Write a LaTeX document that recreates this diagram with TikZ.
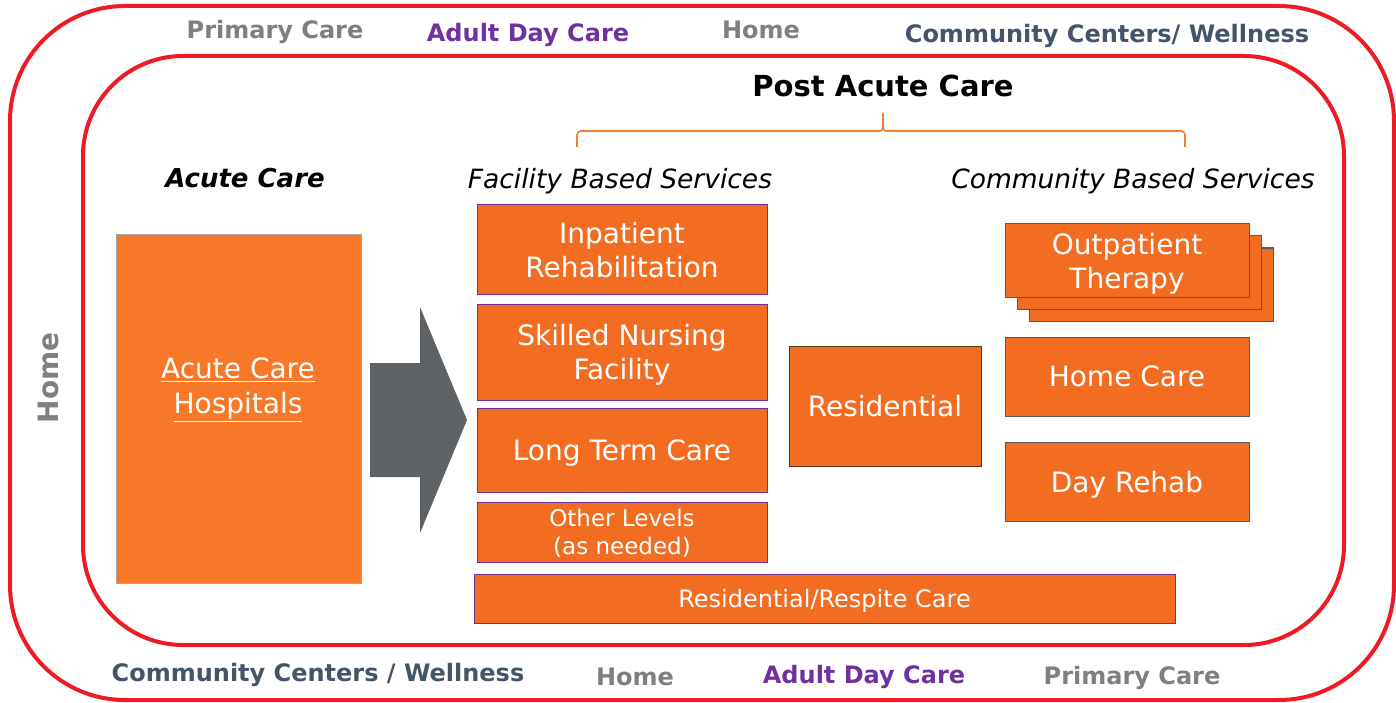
\documentclass[tikz,border=0pt]{standalone}
\usepackage{fontspec}
\setmainfont{DejaVu Sans}
\usetikzlibrary{shapes.arrows}
\definecolor{redline}{HTML}{ED1C24}
\definecolor{boxor}{HTML}{F26D22}
\definecolor{acor}{HTML}{F77829}
\definecolor{purp}{HTML}{7030A0}
\definecolor{grayt}{HTML}{7F7F7F}
\definecolor{slate}{HTML}{44546A}
\definecolor{arrowg}{HTML}{5F6264}
\definecolor{braceor}{HTML}{F47A2E}
\definecolor{boxedge}{HTML}{5A5A5A}
\tikzset{
  redframe/.style={draw=redline, line width=4pt},
  lbl/.style={font=\fontsize{24}{28}\selectfont\bfseries, inner sep=0pt, text depth=0pt},
  fbox/.style={draw=purp, line width=1pt, fill=boxor, text=white, inner sep=0pt, align=center, text depth=0pt, font=\fontsize{28}{34}\selectfont},
  cbox/.style={draw=boxedge, line width=1pt, fill=boxor, text=white, inner sep=0pt, align=center, text depth=0pt, font=\fontsize{28}{34}\selectfont},
  head/.style={inner sep=0pt, text depth=0pt, font=\fontsize{26.5}{30}\selectfont\itshape},
}
\begin{document}
\begin{tikzpicture}[x=1pt,y=-1pt]
\useasboundingbox (0,0) rectangle (1396,703);
% frames
\draw[redframe, rounded corners=115pt] (10,6) rectangle (1394,700);
\draw[redframe, rounded corners=100pt] (83,56) rectangle (1344,645);
% outer labels
\node[lbl, text=grayt] (pc1) at (275,29) {Primary Care};
\node[lbl, text=purp] (adc1) at (528,32) {Adult Day Care};
\node[lbl, text=grayt] (home1) at (761,30) {Home};
\node[lbl, text=slate] (ccw1) at (1107,33) {Community Centers/ Wellness};
\node[lbl, text=slate] (ccw2) at (318,672) {Community Centers / Wellness};
\node[lbl, text=grayt] (home2) at (635,677) {Home};
\node[lbl, text=purp] (adc2) at (864,674) {Adult Day Care};
\node[lbl, text=grayt] (pc2) at (1132,675) {Primary Care};
\node[lbl, text=grayt, rotate=90, font=\fontsize{28}{32}\selectfont\bfseries] (homeL) at (48,378) {Home};
% headings
\node[inner sep=0pt, font=\fontsize{29}{34}\selectfont\bfseries] (pac) at (883,86) {Post Acute Care};
\draw[braceor, line width=1.6pt] (577,147) -- (577,135) arc[start angle=180, end angle=90, radius=4pt] -- (879,131)
  .. controls (883,131) .. (883,113) .. controls (883,131) .. (887,131) -- (1181,131) arc[start angle=90, end angle=0, radius=4pt] -- (1185,147);
\node[head, font=\fontsize{26}{30}\selectfont\bfseries\itshape] (ach) at (245,178) {Acute Care};
\node[head] (fbs) at (620,178) {Facility Based Services};
\node[head] (cbs) at (1133,178) {Community Based Services};
% acute care box
\node[draw=black!35, line width=1pt, fill=acor, minimum width=245pt, minimum height=348pt, inner sep=0pt] (acute) at (238.5,409) {};
\node[text=white, align=center, font=\fontsize{28}{35}\selectfont, inner sep=0pt] (acutetxt) at (238,390) {\underline{Acute Care}\\\underline{Hospitals}};
% block arrow
\fill[arrowg] (370,363) -- (420,363) -- (420,307) -- (467,420) -- (420,533) -- (420,477) -- (370,477) -- cycle;
% facility based
\node[fbox, minimum width=290pt, minimum height=89pt] (inpat) at (622,249.5) {Inpatient\\Rehabilitation};
\node[fbox, minimum width=290pt, minimum height=96pt] (snf) at (622,352) {Skilled Nursing\\Facility};
\node[fbox, minimum width=290pt, minimum height=84pt] (ltc) at (622,450) {Long Term Care};
\node[fbox, minimum width=290pt, minimum height=60pt, font=\fontsize{23}{28}\selectfont] (other) at (622,532) {Other Levels\\(as needed)};
\node[fbox, minimum width=701pt, minimum height=49pt, font=\fontsize{24}{28}\selectfont] (resp) at (824.5,598.5) {Residential/Respite Care};
% residential
\node[cbox, draw=black!55!brown, minimum width=192pt, minimum height=120pt] (resid) at (885,406) {Residential};
% community based
\node[cbox, minimum width=244pt, minimum height=73pt] (outp3) at (1151,284.5) {};
\node[cbox, minimum width=244pt, minimum height=73pt] (outp2) at (1139,272.5) {};
\node[cbox, minimum width=244pt, minimum height=73pt] (outp) at (1127,260.5) {Outpatient\\Therapy};
\node[cbox, minimum width=244pt, minimum height=79pt] (homec) at (1127,376.5) {Home Care};
\node[cbox, minimum width=244pt, minimum height=79pt] (dayr) at (1127,481.5) {Day Rehab};
\end{tikzpicture}
\end{document}
